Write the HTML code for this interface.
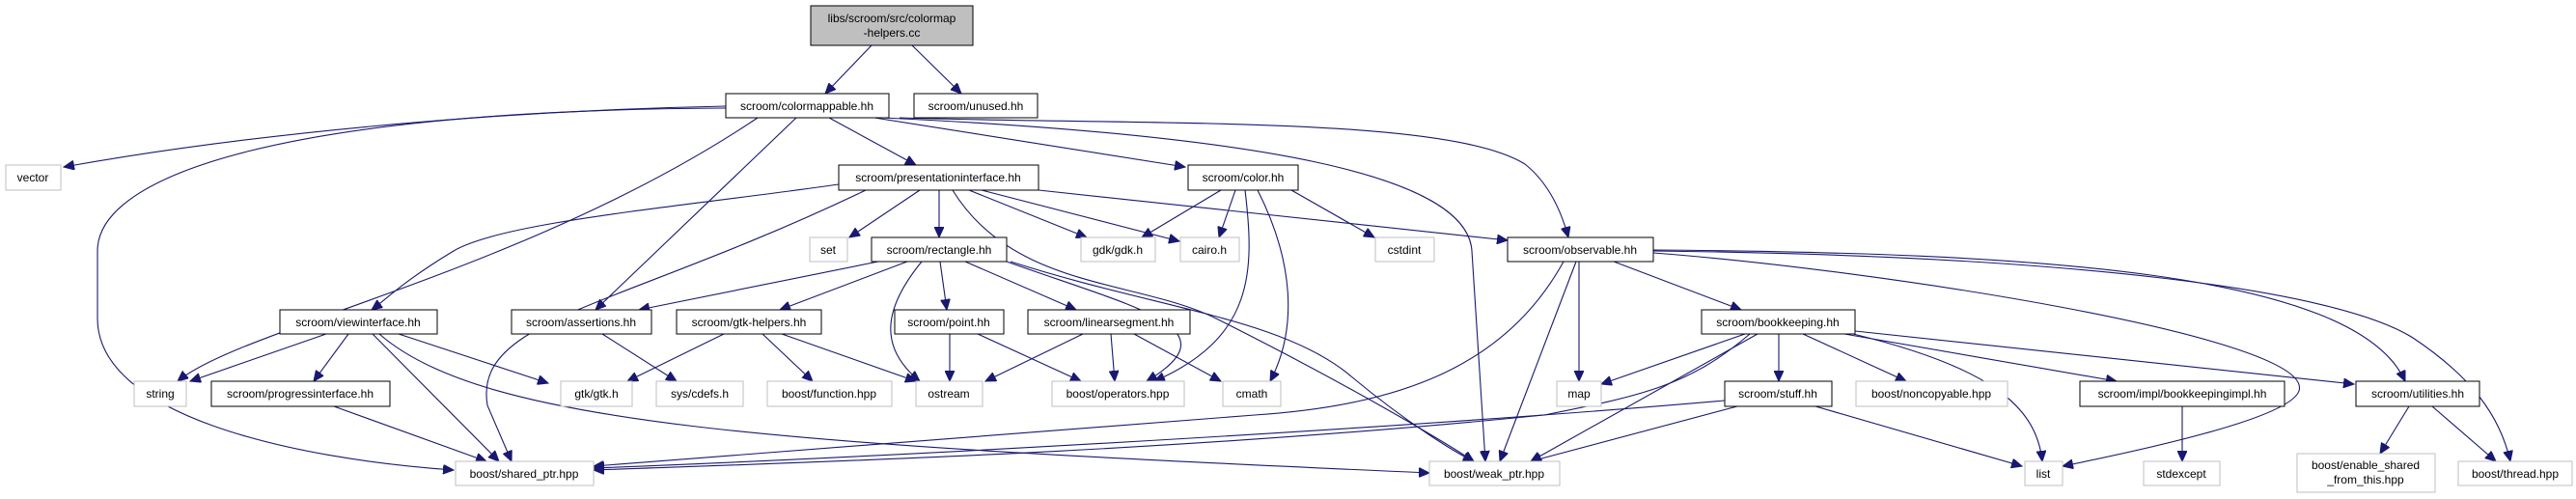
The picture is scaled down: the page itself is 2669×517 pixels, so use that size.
<!DOCTYPE html>
<html><head><meta charset="utf-8"><style>
html,body{margin:0;padding:0;background:#fff;}
svg{display:block;}
text{font-family:"Liberation Sans",sans-serif;font-size:12px;text-anchor:middle;fill:#000;}
.n{fill:#fff;stroke:#000;stroke-width:1;}
.g{fill:#fff;stroke:#bfbfbf;stroke-width:1;}
path{fill:none;stroke:#191970;stroke-width:1.1;marker-end:url(#a);}
</style></head><body>
<svg width="2669" height="517" viewBox="0 0 2669 517" xmlns="http://www.w3.org/2000/svg">
<defs><marker id="a" markerUnits="userSpaceOnUse" markerWidth="12" markerHeight="10" refX="11" refY="5" orient="auto"><polygon points="0,0 11,5 0,10" fill="#191970" stroke="#191970"/></marker></defs>
<!-- edges -->
<path d="M903,47 L855,97"/>
<path d="M945,47 L996,97"/>
<path d="M752,110 C500,115 250,140 66,173"/>
<path d="M752,112 C300,114 101,180 101,260 L101,330 C101,430 300,475 470,487"/>
<path d="M785,122 C550,280 250,340 184,395"/>
<path d="M825,122 L617,321"/>
<path d="M859,122 L949,171"/>
<path d="M906,122 L1228,173"/>
<path d="M932,122 C1200,130 1500,120 1580,170 C1605,190 1618,220 1625,246"/>
<path d="M914,122 C1300,140 1520,180 1525,260 L1539,478"/>
<path d="M869,191 C700,215 520,230 470,260 C420,290 400,310 385,321"/>
<path d="M897,197 C640,320 490,330 505,420 L530,478"/>
<path d="M953,197 L880,246"/>
<path d="M973,197 L973,246"/>
<path d="M987,197 C1050,300 1180,290 1260,330 C1400,400 1500,460 1527,478"/>
<path d="M1004,197 L1126,246"/>
<path d="M1017,197 L1222,250"/>
<path d="M1076,197 L1562,249"/>
<path d="M1265,197 L1183,246"/>
<path d="M1280,197 L1263,246"/>
<path d="M1290,197 C1300,280 1300,350 1196,395"/>
<path d="M1303,197 C1340,270 1345,340 1316,395"/>
<path d="M1338,197 L1424,246"/>
<path d="M910,271 L662,321"/>
<path d="M940,271 L808,321"/>
<path d="M955,271 C915,320 910,360 953,395"/>
<path d="M974,271 L981,321"/>
<path d="M1000,271 L1115,321"/>
<path d="M1043,271 C1180,320 1280,340 1188,395"/>
<path d="M1047,271 C1200,320 1330,330 1400,390 C1460,440 1510,470 1527,478"/>
<path d="M338,346 L197,395"/>
<path d="M361,346 L325,395"/>
<path d="M413,346 L568,397"/>
<path d="M386,346 L517,478"/>
<path d="M393,346 C500,440 800,460 1481,490"/>
<path d="M346,421 L504,478"/>
<path d="M624,346 L701,395"/>
<path d="M750,346 L650,395"/>
<path d="M790,346 L842,395"/>
<path d="M810,346 L949,395"/>
<path d="M984,346 L984,395"/>
<path d="M1013,346 L1120,395"/>
<path d="M1122,346 L1021,395"/>
<path d="M1151,346 L1155,395"/>
<path d="M1175,346 L1265,395"/>
<path d="M1620,271 C1560,380 1450,420 1300,430 C1000,455 800,470 615,483"/>
<path d="M1633,271 L1554,478"/>
<path d="M1636,271 L1636,395"/>
<path d="M1672,271 L1804,321"/>
<path d="M1713,262 C1950,280 2400,350 2382,405 C2375,425 2300,450 2137,483"/>
<path d="M1713,259 C2100,262 2440,280 2492,395"/>
<path d="M1713,260 C2150,265 2420,300 2500,350 C2560,390 2590,430 2601,478"/>
<path d="M1808,346 L1659,398"/>
<path d="M1813,346 C1750,400 1700,410 1600,430 C1200,470 800,480 615,487"/>
<path d="M1821,346 L1586,478"/>
<path d="M1843,346 L1843,395"/>
<path d="M1868,346 L1975,395"/>
<path d="M1920,346 C2060,380 2110,420 2116,478"/>
<path d="M1911,346 L2193,395"/>
<path d="M1922,343 L2439,398"/>
<path d="M1787,415 C1500,440 1000,470 615,485"/>
<path d="M1800,421 L1586,478"/>
<path d="M1881,421 L2095,483"/>
<path d="M2261,421 L2261,478"/>
<path d="M2496,421 L2466,470"/>
<path d="M2520,421 L2586,478"/>
<!-- nodes -->
<rect x="840" y="6" width="168" height="41" fill="#bfbfbf" stroke="#000"/>
<text x="924" y="23">libs/scroom/src/colormap</text><text x="924" y="38">-helpers.cc</text>
<rect class="n" x="752" y="97" width="169" height="25"/><text x="836" y="114">scroom/colormappable.hh</text>
<rect class="n" x="947" y="97" width="128" height="25"/><text x="1011" y="114">scroom/unused.hh</text>
<rect class="g" x="6" y="171" width="57" height="26"/><text x="34" y="188">vector</text>
<rect class="n" x="869" y="171" width="207" height="26"/><text x="972" y="188">scroom/presentationinterface.hh</text>
<rect class="n" x="1231" y="171" width="114" height="26"/><text x="1288" y="188">scroom/color.hh</text>
<rect class="g" x="839" y="246" width="39" height="25"/><text x="858" y="263">set</text>
<rect class="n" x="903" y="246" width="140" height="25"/><text x="973" y="263">scroom/rectangle.hh</text>
<rect class="g" x="1120" y="246" width="77" height="25"/><text x="1158" y="263">gdk/gdk.h</text>
<rect class="g" x="1223" y="246" width="61" height="25"/><text x="1253" y="263">cairo.h</text>
<rect class="g" x="1425" y="246" width="61" height="25"/><text x="1455" y="263">cstdint</text>
<rect class="n" x="1562" y="246" width="151" height="25"/><text x="1637" y="263">scroom/observable.hh</text>
<rect class="n" x="290" y="321" width="163" height="25"/><text x="371" y="338">scroom/viewinterface.hh</text>
<rect class="n" x="530" y="321" width="145" height="25"/><text x="602" y="338">scroom/assertions.hh</text>
<rect class="n" x="701" y="321" width="150" height="25"/><text x="776" y="338">scroom/gtk-helpers.hh</text>
<rect class="n" x="927" y="321" width="113" height="25"/><text x="983" y="338">scroom/point.hh</text>
<rect class="n" x="1065" y="321" width="168" height="25"/><text x="1149" y="338">scroom/linearsegment.hh</text>
<rect class="n" x="1763" y="321" width="159" height="25"/><text x="1842" y="338">scroom/bookkeeping.hh</text>
<rect class="g" x="139" y="395" width="54" height="26"/><text x="166" y="412">string</text>
<rect class="n" x="219" y="395" width="185" height="26"/><text x="311" y="412">scroom/progressinterface.hh</text>
<rect class="g" x="581" y="395" width="74" height="26"/><text x="618" y="412">gtk/gtk.h</text>
<rect class="g" x="680" y="395" width="90" height="26"/><text x="725" y="412">sys/cdefs.h</text>
<rect class="g" x="795" y="395" width="129" height="26"/><text x="859" y="412">boost/function.hpp</text>
<rect class="g" x="949" y="395" width="69" height="26"/><text x="983" y="412">ostream</text>
<rect class="g" x="1090" y="395" width="137" height="26"/><text x="1158" y="412">boost/operators.hpp</text>
<rect class="g" x="1267" y="395" width="60" height="26"/><text x="1297" y="412">cmath</text>
<rect class="g" x="1613" y="395" width="46" height="26"/><text x="1636" y="412">map</text>
<rect class="n" x="1787" y="395" width="111" height="26"/><text x="1842" y="412">scroom/stuff.hh</text>
<rect class="g" x="1923" y="395" width="157" height="26"/><text x="2001" y="412">boost/noncopyable.hpp</text>
<rect class="n" x="2155" y="395" width="212" height="26"/><text x="2261" y="412">scroom/impl/bookkeepingimpl.hh</text>
<rect class="n" x="2441" y="395" width="128" height="26"/><text x="2505" y="412">scroom/utilities.hh</text>
<rect class="g" x="472" y="478" width="143" height="25"/><text x="543" y="495">boost/shared_ptr.hpp</text>
<rect class="g" x="1481" y="478" width="135" height="25"/><text x="1548" y="495">boost/weak_ptr.hpp</text>
<rect class="g" x="2098" y="478" width="39" height="25"/><text x="2117" y="495">list</text>
<rect class="g" x="2221" y="478" width="79" height="25"/><text x="2260" y="495">stdexcept</text>
<rect class="g" x="2380" y="470" width="143" height="40"/><text x="2451" y="486">boost/enable_shared</text><text x="2451" y="501">_from_this.hpp</text>
<rect class="g" x="2547" y="478" width="118" height="25"/><text x="2606" y="495">boost/thread.hpp</text>
</svg>
</body></html>
